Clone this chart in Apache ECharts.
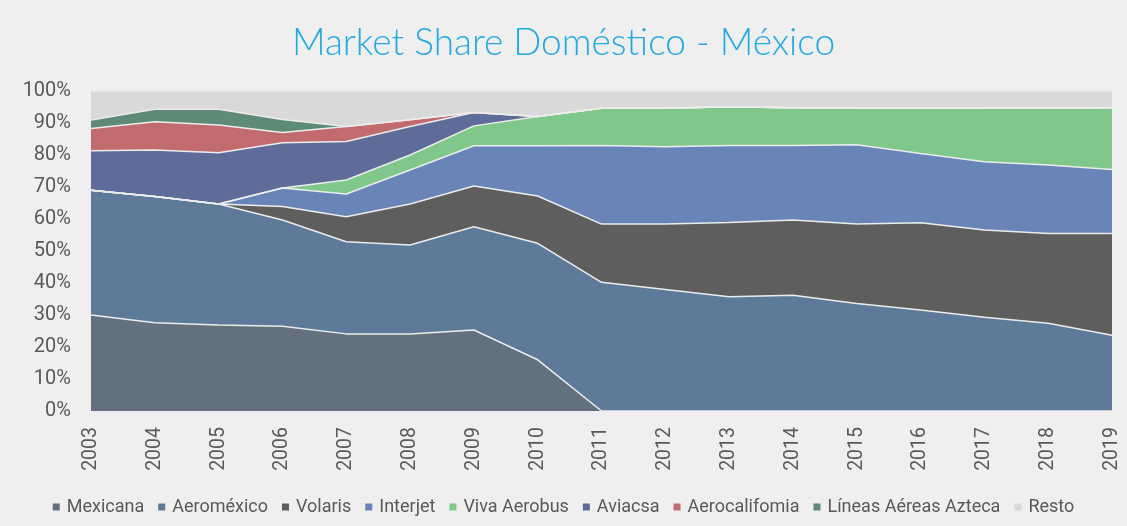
<!DOCTYPE html>
<html>
<head>
<meta charset="utf-8">
<script src="https://cdn.jsdelivr.net/npm/echarts@6/dist/echarts.min.js"></script>
<style>
html,body{margin:0;padding:0;background:#efefef;}
#chart{width:1127px;height:526px;}
</style>
</head>
<body>
<div id="chart"></div>
<script>
var years = ['2003','2004','2005','2006','2007','2008','2009','2010','2011','2012','2013','2014','2015','2016','2017','2018','2019'];
var mexicana   = [30, 27.6, 26.9, 26.5, 24.1, 24.1, 25.3, 16, 0, 0, 0, 0, 0, 0, 0, 0, 0];
var aeromexico = [39, 39.4, 37.8, 33.2, 28.8, 27.8, 32.3, 36.4, 40.2, 38, 35.7, 36.2, 33.6, 31.6, 29.3, 27.4, 23.7];
var volaris    = [0, 0, 0, 4.2, 7.8, 12.8, 12.7, 14.8, 18.2, 20.4, 23.2, 23.5, 24.8, 27.2, 27.3, 28.1, 31.8];
var interjet   = [0, 0, 0, 5.8, 7.1, 10.6, 12.6, 15.7, 24.6, 24.2, 24.1, 23.3, 24.8, 21.7, 21.3, 21.4, 20.0];
var viva       = [0, 0, 0, 0, 4.4, 4.7, 6.2, 9.1, 11.6, 12.0, 12.1, 11.8, 11.4, 14.1, 16.7, 17.8, 19.3];
var aviacsa    = [12.3, 14.6, 16, 14.1, 12, 8.9, 4.2, 0, 0, 0, 0, 0, 0, 0, 0, 0, 0];
var aerocal    = [7, 8.8, 8.7, 3.2, 4.7, 2.1, 0, 0, 0, 0, 0, 0, 0, 0, 0, 0, 0];
var azteca     = [2.6, 3.9, 4.9, 4.1, 0, 0, 0, 0, 0, 0, 0, 0, 0, 0, 0, 0, 0];
var resto      = [9.1, 5.7, 5.7, 8.9, 11.1, 9, 6.7, 8, 5.4, 5.4, 4.9, 5.2, 5.4, 5.4, 5.4, 5.3, 5.2];

var seriesNames = ['Mexicana','Aeroméxico','Volaris','Interjet','Viva Aerobus','Aviacsa','Aerocalifomia','Líneas Aéreas Azteca','Resto'];
var seriesData = [mexicana, aeromexico, volaris, interjet, viva, aviacsa, aerocal, azteca, resto];
var colors = ['#63717f','#5d7b99','#5e5e5e','#6985b8','#7fc78a','#5f6b98','#c26b6f','#5e8a78','#d9d9d9'];

var chart = echarts.init(document.getElementById('chart'), null, {renderer:'canvas'});
var series = seriesNames.map(function(n, i){
  return {
    name: n,
    type: 'line',
    stack: 'total',
    symbol: 'none',
    data: seriesData[i],
    lineStyle: {color: '#ececec', width: 1.5},
    areaStyle: {color: colors[i], opacity: 1},
    itemStyle: {color: colors[i]},
    z: 2
  };
});
chart.setOption({
  backgroundColor: '#efefef',
  animation: false,
  title: {
    text: 'Market Share Doméstico - México',
    left: 'center',
    top: 20,
    textStyle: {color: '#22a9e1', fontSize: 37, fontWeight: 300, fontFamily: 'Lato'}
  },
  color: colors,
  legend: {
    bottom: 5,
    left: 'center',
    icon: 'rect',
    itemWidth: 7,
    itemHeight: 7,
    itemGap: 14,
    textStyle: {color: '#595959', fontSize: 18, fontFamily: 'Roboto', padding: [0,0,0,2]},
    data: seriesNames
  },
  grid: {left: 91, right: 15, top: 91, bottom: 115},
  xAxis: {
    type: 'category',
    data: years,
    boundaryGap: false,
    axisLine: {show: false},
    axisTick: {show: false},
    axisLabel: {rotate: 90, color: '#595959', fontSize: 19.5, fontFamily: 'Roboto', margin: 16}
  },
  yAxis: {
    type: 'value',
    min: 0,
    max: 100,
    interval: 10,
    axisLine: {show: false},
    axisTick: {show: false},
    splitLine: {show: false},
    axisLabel: {formatter: '{value}%', color: '#595959', fontSize: 20, fontFamily: 'Roboto', margin: 20}
  },
  series: series
});
</script>
</body>
</html>
